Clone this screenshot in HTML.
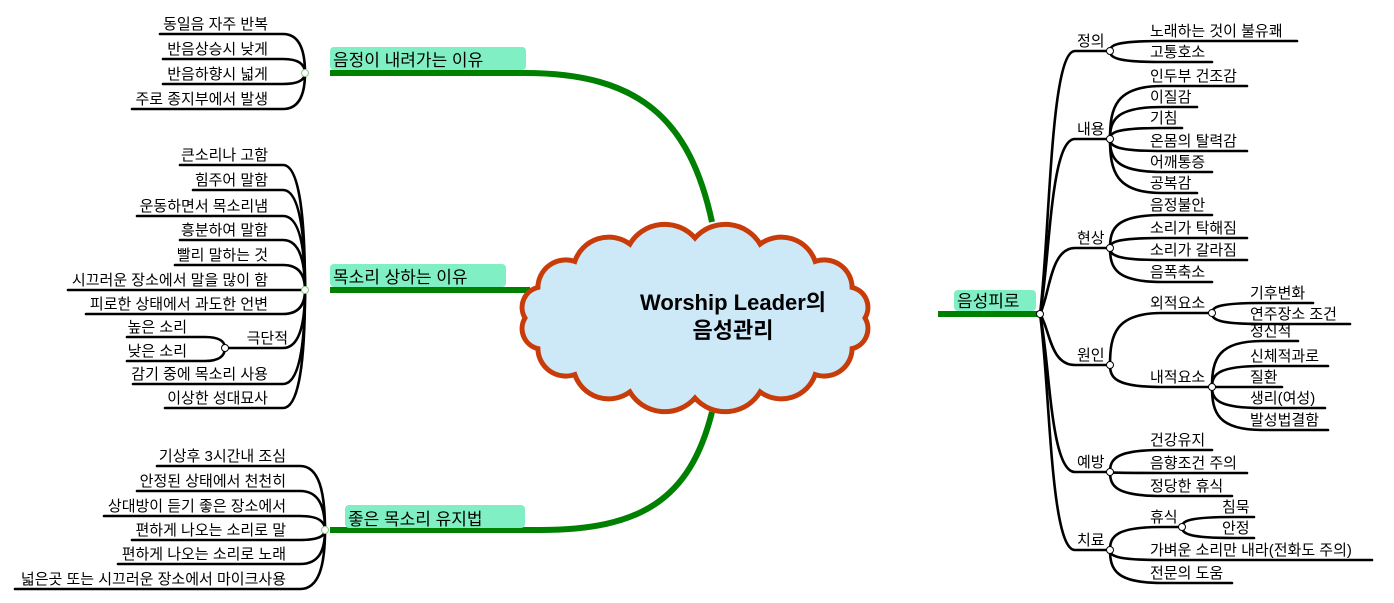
<!DOCTYPE html>
<html><head><meta charset="utf-8">
<style>
html,body{margin:0;padding:0;background:#fff;}
svg{display:block;}
text{font-family:"Liberation Sans","Noto Sans CJK KR","NanumGothic",sans-serif;font-size:15px;fill:#000;}
.t{font-size:17px;}
.c{font-size:22px;font-weight:bold;}
</style></head>
<body>
<svg id="s" width="1394" height="603" viewBox="0 0 1394 603" xmlns="http://www.w3.org/2000/svg">
<g id="lines" fill="none" stroke="#000" stroke-width="2.6" stroke-linecap="round"></g>
<g id="green" fill="none" stroke="#008000" stroke-width="6" stroke-linecap="butt">
<path d="M330 73 H525 C640 73 690 120 712 222"/>
<path d="M330 290 H530"/>
<path d="M330 530 H540 C640 530 690 500 712 412"/>
<path d="M938 314 H1040"/>
</g>
<path id="cloud" fill="#cde9f8" stroke="#c83c0a" stroke-width="5"/>
<text class="c" x="733" y="310" text-anchor="middle">Worship Leader의</text>
<text class="c" x="733" y="338" text-anchor="middle">음성관리</text>
<g id="labels">
<rect x="330" y="47" width="196" height="23" rx="4" fill="#80f0c4"/>
<text class="t" x="333" y="66">음정이 내려가는 이유</text>
<rect x="330" y="264" width="176" height="23" rx="4" fill="#80f0c4"/>
<text class="t" x="333" y="283">목소리 상하는 이유</text>
<rect x="345" y="505" width="180" height="23" rx="4" fill="#80f0c4"/>
<text class="t" x="348" y="525">좋은 목소리 유지법</text>
<rect x="954" y="290" width="82" height="21" rx="4" fill="#80f0c4"/>
<text class="t" x="957" y="307">음성피로</text>
</g>
<g id="txt"></g>
<g id="dots" fill="#fff" stroke="#000" stroke-width="1"></g>
</svg>
<script>
var NS="http://www.w3.org/2000/svg";
function el(g,tag,attrs,txt){var e=document.createElementNS(NS,tag);for(var k in attrs)e.setAttribute(k,attrs[k]);if(txt)e.textContent=txt;document.getElementById(g).appendChild(e);return e;}
function dot(x,y,c){el("dots","circle",{cx:x,cy:y,r:3.5,fill:c||"#fff",stroke:c?"#8c8":"#000"});}
function lleaf(nx,ny,lx,rx,y,t,tx){
  el("lines","path",{d:"M"+lx+" "+y+" H"+rx+" C"+(nx-6)+" "+y+" "+nx+" "+(ny+(y-ny)*0.6)+" "+nx+" "+ny});
  el("txt","text",{x:tx,y:y-5,"text-anchor":"end"},t);
}
function rleaf(nx,ny,lx,rx,y,t){
  el("lines","path",{d:"M"+nx+" "+ny+" C"+nx+" "+(ny+(y-ny)*0.6)+" "+(nx+6)+" "+y+" "+(lx+12)+" "+y+" H"+rx});
  el("txt","text",{x:lx,y:y-5},t);
}
var g1=[["동일음 자주 반복",34,160],["반음상승시 낮게",59,163],["반음하향시 넓게",84,163],["주로 종지부에서 발생",109,132]];
g1.forEach(function(a){lleaf(305,73,a[2],283,a[1],a[0],268);});
var g2=[["큰소리나 고함",165,180],["힘주어 말함",190,193],["운동하면서 목소리냄",216,137],["흥분하여 말함",240,180],["빨리 말하는 것",265,175],["시끄러운 장소에서 말을 많이 함",290,68],["피로한 상태에서 과도한 언변",314,86],["감기 중에 목소리 사용",384,133],["이상한 성대묘사",408,165]];
g2.forEach(function(a){lleaf(305,290,a[2],283,a[1],a[0],268);});
lleaf(305,290,225,283,348,"극단적",288);
lleaf(225,348,127,205,337,"높은 소리",187);
lleaf(225,348,127,205,361,"낮은 소리",187);
var g3=[["기상후 3시간내 조심",466,157],["안정된 상태에서 천천히",491,137],["상대방이 듣기 좋은 장소에서",516,104],["편하게 나오는 소리로 말",540,132],["편하게 나오는 소리로 노래",564,118],["넓은곳 또는 시끄러운 장소에서 마이크사용",589,15]];
g3.forEach(function(a){lleaf(325,530,a[2],300,a[1],a[0],286);});
var subs=[["정의",51],["내용",139],["현상",248],["원인",365],["예방",472],["치료",550]];
subs.forEach(function(a){
  el("lines","path",{d:"M1040 314 C1050 "+(314+(a[1]-314)*0.3)+" 1050 "+a[1]+" 1075 "+a[1]+" H1110"});
  el("txt","text",{x:1077,y:a[1]-5},a[0]);
});
function R(ny,list,nx,lx){nx=nx||1110;lx=lx||1150;list.forEach(function(a){rleaf(nx,ny,lx,a[2],a[1],a[0]);});}
R(51,[["노래하는 것이 불유쾌",41,1297],["고통호소",62,1212]]);
R(139,[["인두부 건조감",86,1247],["이질감",107,1197],["기침",128,1182],["온몸의 탈력감",151,1247],["어깨통증",172,1212],["공복감",193,1197]]);
R(248,[["음정불안",215,1212],["소리가 탁해짐",238,1247],["소리가 갈라짐",260,1247],["음폭축소",282,1212]]);
R(365,[["외적요소",313,1212],["내적요소",387,1212]]);
R(313,[["기후변화",303,1313],["연주장소 조건",324,1350]],1212,1250);
R(387,[["정신적",341,1298],["신체적과로",366,1328],["질환",387,1282],["생리(여성)",408,1325],["발성법결함",430,1328]],1212,1250);
R(472,[["건강유지",450,1212],["음향조건 주의",473,1247],["정당한 휴식",496,1232]]);
R(550,[["휴식",527,1182],["가벼운 소리만 내라(전화도 주의)",560,1372],["전문의 도움",583,1232]]);
R(527,[["침묵",517,1254],["안정",538,1254]],1182,1222);
[[305,73],[305,290],[225,348],[325,530]].forEach(function(p){dot(p[0],p[1],p[0]==225?null:"#fff");});
dot(1040,314);
subs.forEach(function(a){dot(1110,a[1]);});
dot(1212,313);dot(1212,387);dot(1182,527);
var cx=695,cy=318,rx=170,ry=80,n=16,pts=[];
for(var i=0;i<n;i++){var a=2*Math.PI*i/n;pts.push([cx+rx*Math.cos(a),cy+ry*Math.sin(a)]);}
var d="M"+pts[0][0].toFixed(1)+" "+pts[0][1].toFixed(1);
for(var i=1;i<=n;i++){var p=pts[i%n],q=pts[i-1];var dd=Math.hypot(p[0]-q[0],p[1]-q[1]);var r=dd*0.62;d+=" A"+r.toFixed(1)+" "+r.toFixed(1)+" 0 0 1 "+p[0].toFixed(1)+" "+p[1].toFixed(1);}
document.getElementById("cloud").setAttribute("d",d+"Z");
</script>
</body></html>
